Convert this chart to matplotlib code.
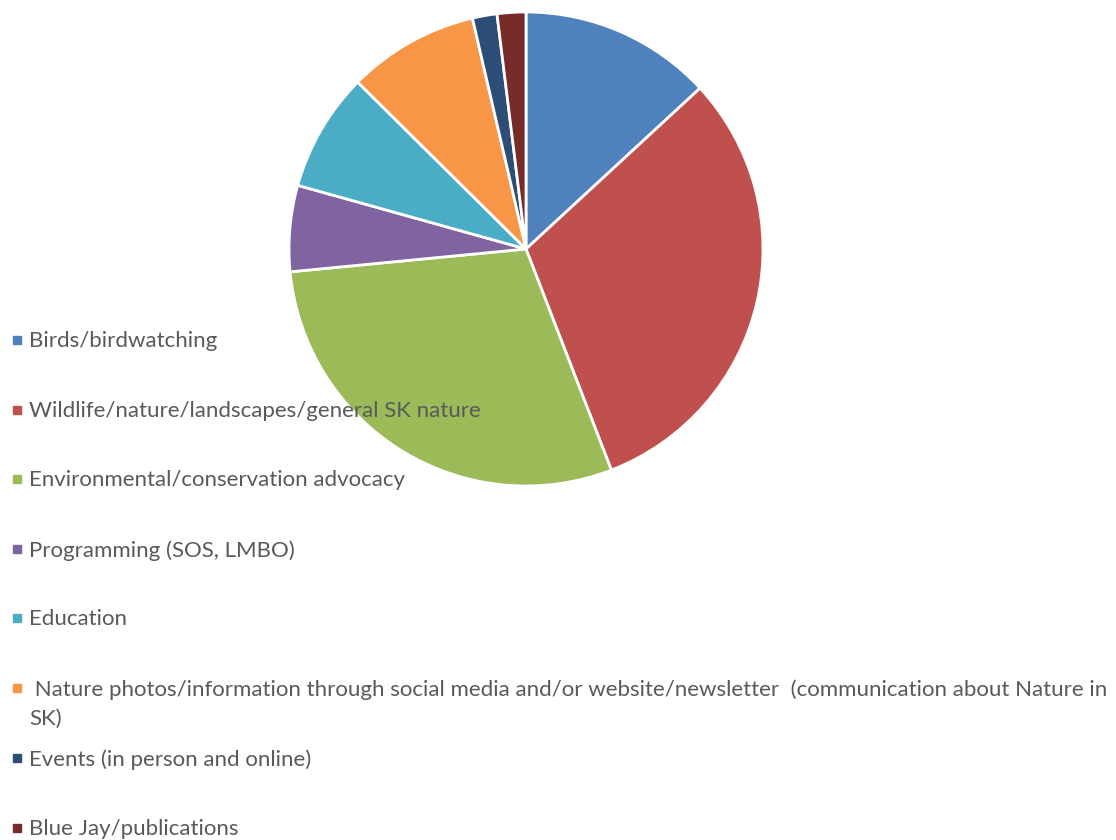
import matplotlib.pyplot as plt
from matplotlib.patches import Rectangle

# survey answers: what members value most
categories = [
    "Birds/birdwatching",
    "Wildlife/nature/landscapes/general SK nature",
    "Environmental/conservation advocacy",
    "Programming (SOS, LMBO)",
    "Education",
    " Nature photos/information through social media and/or website/newsletter  (communication about Nature in\nSK)",
    "Events (in person and online)",
    "Blue Jay/publications",
]
responses = [47, 111, 105, 21, 29, 32, 6, 7]
colors = ["#4F81BD", "#C0504D", "#9BBB59", "#8064A2",
          "#4BACC6", "#F79646", "#2C4D75", "#772C2A"]

W, H = 1116, 840
fig = plt.figure(figsize=(W / 100, H / 100), dpi=100)

# pie placed in pixel terms (centre 526,249 ; radius 237)
cx, cy, r = 526, 249, 237
ax = fig.add_axes([(cx - r) / W, (H - cy - r) / H, 2 * r / W, 2 * r / H])
ax.pie(responses, colors=colors, startangle=90, counterclock=False,
       radius=1, wedgeprops=dict(edgecolor="white", linewidth=2))
ax.set_xlim(-1, 1)
ax.set_ylim(-1, 1)
ax.set_aspect("auto")
ax.axis("off")

# legend down the left side, one entry every ~70px
legend_y = [340, 410, 479, 549, 618, 688, 758, 828]
for label, col, y in zip(categories, colors, legend_y):
    fig.patches.append(Rectangle((13 / W, (H - y - 4) / H), 8 / W, 8 / H,
                                 transform=fig.transFigure, color=col))
    fig.text(29 / W, (H - y + 9) / H, label, fontsize=16, family="Lato",
             color="#595959", va="top", ha="left", linespacing=1.55)

fig.savefig("out.png", dpi=100)
